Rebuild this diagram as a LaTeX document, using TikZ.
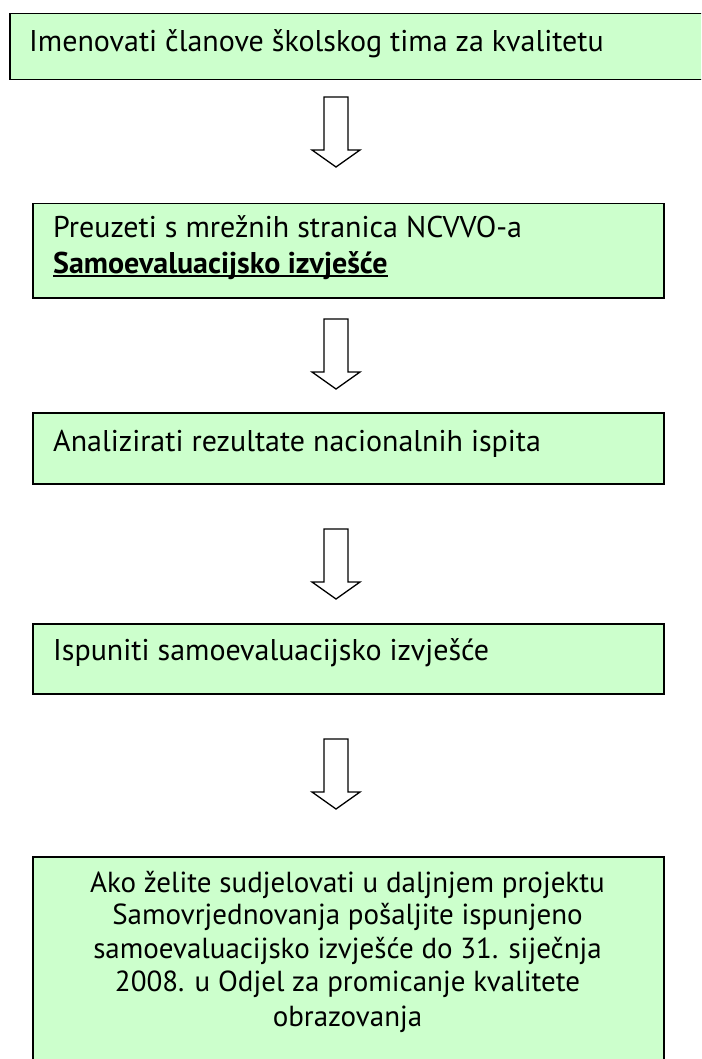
\documentclass[tikz,border=0pt]{standalone}
\usepackage{fontspec}
\setmainfont{PT Sans}

\definecolor{boxgreen}{HTML}{CCFFCC}
\newcommand{\stepunderline}[1]{{\setbox0\hbox{#1}\rlap{\rule[-3.5pt]{\wd0}{2pt}}\box0}}

\begin{document}
\begin{tikzpicture}
[x=1pt,y=-1pt,%
  greenbox/.style={draw=black,fill=boxgreen,line width=1.5pt,anchor=north west,inner sep=0pt},%
  steptext/.style={inner sep=0pt,font=\fontsize{30}{36}\selectfont},%
  endtext/.style={steptext,anchor=base,font=\fontsize{29}{35}\selectfont},%
  downarrow/.pic={\draw[line width=1.3pt,fill=white,line join=miter]
    (-12,0) -- (12,0) -- (12,53) -- (24,53) -- (0,70) -- (-24,53) -- (-12,53) -- cycle;}]
\clip (0,0) rectangle (701,1059);
\fill[white] (0,0) rectangle (701,1059);
\node[greenbox,minimum width=711pt,minimum height=66pt] (imenovati) at (9,13) {};
\node[steptext,anchor=base west] (imenovatitxt) at (29,52) {Imenovati članove školskog tima za kvalitetu};
\pic at (336,97) {downarrow};
\node[greenbox,minimum width=631pt,minimum height=94pt] (preuzeti) at (32,203) {};
\node[steptext,anchor=base west] (preuzetitxt) at (53,238) {Preuzeti s mrežnih stranica NCVVO-a};
\node[steptext,anchor=base west] (izvjesce) at (53,273) {\stepunderline{\bfseries Samoevaluacijsko izvješće}};
\pic at (336,319) {downarrow};
\node[greenbox,minimum width=631pt,minimum height=71pt] (analizirati) at (32,412) {};
\node[steptext,anchor=base west] (analiziratitxt) at (53,451) {Analizirati rezultate nacionalnih ispita};
\pic at (336,529) {downarrow};
\node[greenbox,minimum width=631pt,minimum height=70pt] (ispuniti) at (32,623) {};
\node[steptext,anchor=base west] (ispunititxt) at (53,660) {Ispuniti samoevaluacijsko izvješće};
\pic at (336,739) {downarrow};
\node[greenbox,minimum width=631pt,minimum height=220pt] (poslati) at (32,856) {};
\node[endtext] (poslatia) at (347.5,892) {Ako želite sudjelovati u daljnjem projektu};
\node[endtext] (poslatib) at (347.5,924) {Samovrjednovanja pošaljite ispunjeno};
\node[endtext] (poslatic) at (347.5,958) {samoevaluacijsko izvješće do 31. siječnja};
\node[endtext] (poslatid) at (347.5,991) {2008. u Odjel za promicanje kvalitete};
\node[endtext] (poslatie) at (347.5,1026) {obrazovanja};
\end{tikzpicture}
\end{document}
